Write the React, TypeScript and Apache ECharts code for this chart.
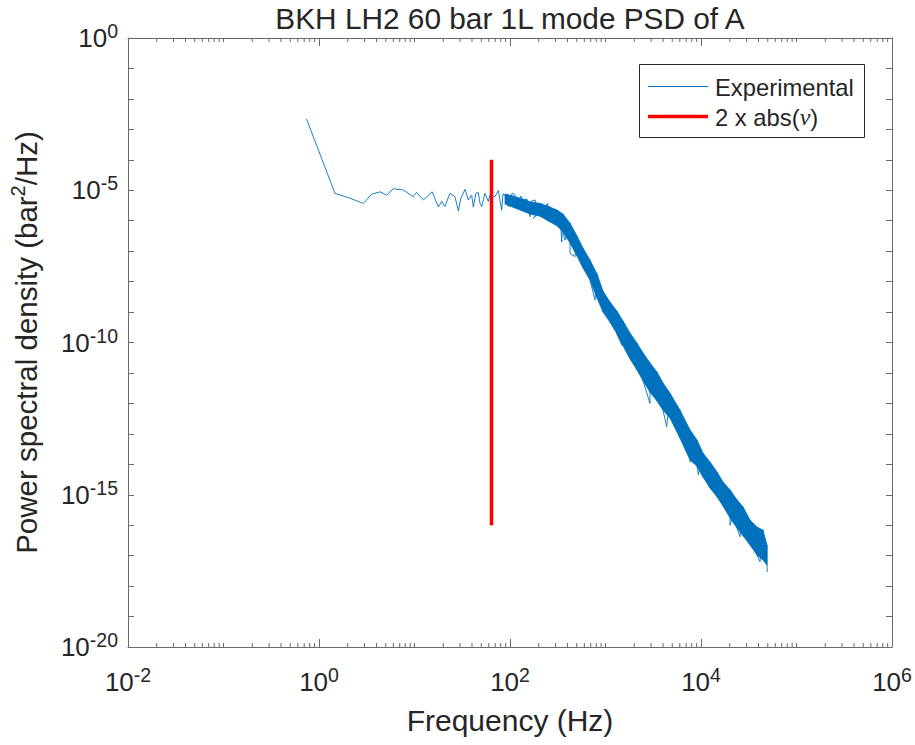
import React, { useEffect, useRef } from "react";
import * as echarts from "echarts";

// ---------- data ----------
const chartTitle = "BKH LH2 60 bar 1L mode PSD of A";
const xAxisName = "Frequency (Hz)";
const legendNames = ["Experimental", "2 x abs(ν)"];

// x axis: log10(Hz) from 1e-2 to 1e6, y axis: log10(bar^2/Hz) from 1e-20 to 1e0
const xExpMin = -2;
const xExpMax = 6;
const xExpStep = 2;
const yExpMin = -20;
const yExpMax = 0;
const yExpStep = 5;

// low-frequency part of the experimental PSD (Hz, bar^2/Hz)
const lowFreq = [
  0.74, 1.47, 2.1, 2.91, 3.56, 4.35, 5.1, 6.0, 7.6, 9.7, 10.5, 12.4, 15.3, 17.8, 19.3, 20.8,
  23.5, 26.5, 28.8, 30.5, 33.8, 36.6, 39.7, 41.3, 44, 46.6, 48.5, 50.5, 54.7, 59.3, 61.7,
  69.7, 75.5, 78.5, 81.8, 84.5, 88.7, 93, 100, 105, 113, 121, 130, 138, 151, 162, 170, 183,
  196, 211, 223, 238, 251,
];
const lowPsd = [
  2.2e-3, 7.9e-6, 5.5e-6, 3.7e-6, 7.4e-6, 8.9e-6, 6.9e-6, 1.12e-5, 1.02e-5, 6.2e-6, 8.5e-6,
  4.8e-6, 8.9e-6, 2.8e-6, 4.3e-6, 2.9e-6, 7.9e-6, 6.2e-6, 2.1e-6, 5.4e-6, 1.07e-5, 4.8e-6,
  6.9e-6, 2.8e-6, 8.1e-6, 8.3e-6, 3.8e-6, 2.9e-6, 7.9e-6, 4.3e-6, 6.9e-6, 6.2e-6, 9.8e-6,
  4.8e-6, 2.2e-6, 7.6e-6, 6.9e-6, 3.3e-6, 2.9e-6, 8.1e-6, 6.9e-6, 3.3e-6, 6.5e-6, 4.8e-6,
  5.1e-6, 1.35e-6, 4.5e-6, 4.8e-6, 1.9e-6, 3.8e-6, 2.2e-6, 3.0e-6, 3.7e-6,
];

// dense noisy band: frequency with upper / lower envelope (bar^2/Hz)
const bandFreq = [
  88.7, 100, 127, 162, 206, 262, 311, 359, 425, 503, 581, 688, 815, 942, 1114, 1319, 1523,
  1806, 2138, 2472, 2926, 3462, 4000, 4733, 6026, 7674, 9080, 10490, 12420, 14720, 17000,
  20130, 23820, 27540, 32600, 38550, 44570, 49100,
];
const bandUpper = [
  7.6e-6, 6.9e-6, 5.5e-6, 4.2e-6, 3.7e-6, 2.8e-6, 2.24e-6, 1.66e-6, 8.32e-7, 3.16e-7,
  1.26e-7, 5.13e-8, 1.78e-8, 4.9e-9, 2.14e-9, 1.07e-9, 5.13e-10, 2.04e-10, 9.5e-11,
  4.57e-11, 2.14e-11, 1.07e-11, 4.68e-12, 2.19e-12, 6.03e-13, 1.35e-13, 6.3e-14, 2.34e-14,
  1.2e-14, 5.6e-15, 2.63e-15, 1.45e-15, 6.8e-16, 4.0e-16, 1.48e-16, 8.7e-17, 6.9e-17,
  2.24e-17,
];
const bandLower = [
  3.55e-6, 3.02e-6, 2.24e-6, 1.66e-6, 1.41e-6, 9.1e-7, 6.8e-7, 4.27e-7, 1.86e-7, 6.9e-8,
  2.82e-8, 1.12e-8, 2.88e-9, 1.0e-9, 4.68e-10, 1.9e-10, 7.8e-11, 2.88e-11, 1.26e-11,
  5.5e-12, 2.34e-12, 1.2e-12, 6.0e-13, 3.3e-13, 7.2e-14, 1.38e-14, 8.7e-15, 3.8e-15,
  1.66e-15, 8.5e-16, 4.27e-16, 1.74e-16, 8.1e-17, 4.5e-17, 2.24e-17, 1.05e-17, 7.2e-18,
  4.9e-18,
];
// individual spikes sticking out of the band (Hz, bar^2/Hz)
const spikeFreq = [
  175, 242, 334, 348, 377, 425, 479, 776, 1479, 2924, 3300, 4375, 7674, 9380, 20130, 25600,
  41500, 49500,
];
const spikePsd = [
  1.2e-6, 3.3e-6, 1.8e-6, 2.0e-7, 2.3e-7, 8.5e-8, 6.6e-8, 2.5e-9, 8.3e-11, 1.0e-12,
  1.1e-11, 1.7e-13, 1.2e-14, 4.5e-15, 1.0e-16, 4.2e-17, 6.3e-18, 2.9e-18,
];

// vertical marker 2 x abs(nu)
const nuFreq = [64, 64];
const nuPsd = [1e-16, 1e-4];

// ---------- styling ----------
const FONT = "'Liberation Sans', Arial, Helvetica, sans-serif";
const TXT = "#262626";
const AXIS = "#6a6a6a";
const BLUE = "#0072BD";
const RED = "#FF0000";

const lg = (v: number) => Math.log10(v);

export default function App() {
  const ref = useRef<HTMLDivElement>(null);

  useEffect(() => {
    if (!ref.current) return;
    const chart = echarts.init(ref.current, undefined, { renderer: "svg" });

    const lowData = lowFreq.map((f, i) => [lg(f), lg(lowPsd[i])]);
    const lastLow = lowFreq[lowFreq.length - 1];
    // tail of the experimental trace: zig-zag through the read envelope points and spikes
    const events: { f: number; pts: number[] }[] = [];
    bandFreq.forEach((f, i) => {
      if (f > lastLow) events.push({ f, pts: [bandUpper[i], bandLower[i]] });
    });
    spikeFreq.forEach((f, i) => events.push({ f: f * 1.0001, pts: [spikePsd[i]] }));
    events.sort((a, b) => a.f - b.f);
    const tail: number[][] = [];
    events.forEach((ev) => ev.pts.forEach((p) => tail.push([lg(ev.f), lg(p)])));
    const expData = lowData.concat(tail);

    const bandData = bandFreq.map((f, i) => [lg(f), lg(bandUpper[i]), lg(bandLower[i])]);
    const nuData = nuFreq.map((f, i) => [lg(f), lg(nuPsd[i])]);

    // minor ticks on the log frequency axis (2..9 x 10^n and odd decades)
    const minorX: number[][] = [];
    for (let e = xExpMin; e < xExpMax; e++) {
      for (let k = 1; k <= 9; k++) {
        if (k === 1 && (e - xExpMin) % xExpStep === 0) continue;
        minorX.push([e + Math.log10(k), yExpMin]);
      }
    }

    const expLabel = (v: number) => `{b|10}{s|${Math.round(v)}}`;
    const labelRich = {
      b: { fontSize: 26, fontFamily: FONT, color: TXT, lineHeight: 34 },
      s: { fontSize: 19.5, fontFamily: FONT, color: TXT, lineHeight: 20, verticalAlign: "top" },
    };

    const baseX = {
      type: "value",
      min: xExpMin,
      max: xExpMax,
      interval: xExpStep,
      splitLine: { show: false },
      axisLine: { show: true, onZero: false, lineStyle: { color: AXIS, width: 1 } },
      axisTick: { show: true, inside: true, length: 8, lineStyle: { color: AXIS, width: 1 } },
    };
    const baseY = {
      type: "value",
      min: yExpMin,
      max: yExpMax,
      interval: yExpStep,
      splitLine: { show: false },
      axisLine: { show: true, onZero: false, lineStyle: { color: AXIS, width: 1 } },
      axisTick: { show: true, inside: true, length: 6, lineStyle: { color: AXIS, width: 1 } },
      minorTick: { show: true, splitNumber: 5, length: 6, lineStyle: { color: AXIS, width: 1 } },
      minorSplitLine: { show: false },
    };

    chart.setOption({
      animation: false,
      backgroundColor: "#ffffff",
      grid: { left: 128, right: 23, top: 38, bottom: 98, containLabel: false },
      xAxis: [
        {
          ...baseX,
          position: "bottom",
          name: xAxisName,
          nameLocation: "middle",
          nameGap: 58,
          nameTextStyle: { fontFamily: FONT, fontSize: 30, color: TXT },
          axisLabel: { show: true, margin: 18, formatter: expLabel, rich: labelRich },
        },
        { ...baseX, position: "top", axisLabel: { show: false } },
      ],
      yAxis: [
        {
          ...baseY,
          position: "left",
          name: "{a|Power spectral density (bar}{s|2}{a|/Hz)}",
          nameLocation: "middle",
          nameGap: 84,
          nameTextStyle: {
            rich: {
              a: { fontFamily: FONT, fontSize: 29.5, color: TXT, lineHeight: 36 },
              s: { fontFamily: FONT, fontSize: 20, color: TXT, lineHeight: 20, verticalAlign: "top" },
            },
          },
          axisLabel: { show: true, margin: 10, formatter: expLabel, rich: labelRich },
        },
        { ...baseY, position: "right", axisLabel: { show: false } },
      ],
      graphic: [
        {
          type: "text",
          x: 510,
          y: 18,
          style: {
            text: chartTitle,
            fontFamily: FONT,
            fontSize: 29.8,
            fill: TXT,
            align: "center",
            verticalAlign: "middle",
          },
        },
        {
          type: "group",
          x: 0,
          y: 0,
          z: 100,
          children: [
            {
              type: "rect",
              shape: { x: 639.5, y: 64.5, width: 225, height: 73 },
              style: { fill: "#ffffff", stroke: TXT, lineWidth: 1 },
            },
            {
              type: "line",
              shape: { x1: 648, y1: 86.5, x2: 708, y2: 86.5 },
              style: { stroke: BLUE, lineWidth: 1 },
            },
            {
              type: "text",
              x: 715,
              y: 87,
              style: {
                text: legendNames[0],
                fontFamily: FONT,
                fontSize: 23.8,
                fill: TXT,
                verticalAlign: "middle",
              },
            },
            {
              type: "line",
              shape: { x1: 648, y1: 116.5, x2: 708, y2: 116.5 },
              style: { stroke: RED, lineWidth: 3.5 },
            },
            {
              type: "text",
              x: 715,
              y: 117,
              style: {
                text: "{n|2 x abs(}{g|ν}{n|)}",
                verticalAlign: "middle",
                rich: {
                  n: { fontFamily: FONT, fontSize: 23.8, fill: TXT, color: TXT },
                  g: {
                    fontFamily: "'Liberation Serif', 'DejaVu Serif', serif",
                    fontStyle: "italic",
                    fontSize: 24,
                    fill: TXT,
                    color: TXT,
                  },
                },
              },
            },
          ],
        },
      ],
      series: [
        {
          type: "custom",
          name: "band",
          silent: true,
          xAxisIndex: 0,
          yAxisIndex: 0,
          data: bandData,
          encode: { x: 0, y: [1, 2] },
          z: 2,
          renderItem: (params: any, api: any) => {
            if (params.dataIndex !== 0) return { type: "group", children: [] };
            const top = bandData.map((d) => api.coord([d[0], d[1]]));
            const bot = bandData.map((d) => api.coord([d[0], d[2]])).reverse();
            return {
              type: "polygon",
              shape: { points: top.concat(bot) },
              style: { fill: BLUE, stroke: BLUE, lineWidth: 0.8 },
            };
          },
        },
        {
          type: "line",
          name: legendNames[0],
          data: expData,
          xAxisIndex: 0,
          yAxisIndex: 0,
          symbol: "none",
          showSymbol: false,
          z: 3,
          lineStyle: { color: BLUE, width: 0.9 },
          itemStyle: { color: BLUE },
        },
        {
          type: "line",
          name: legendNames[1],
          data: nuData,
          xAxisIndex: 0,
          yAxisIndex: 0,
          symbol: "none",
          showSymbol: false,
          z: 4,
          lineStyle: { color: RED, width: 3.5, cap: "butt" },
          itemStyle: { color: RED },
        },
        {
          type: "custom",
          name: "minorTicks",
          silent: true,
          xAxisIndex: 0,
          yAxisIndex: 0,
          data: minorX,
          encode: { x: 0, y: 1 },
          z: 5,
          renderItem: (params: any, api: any) => {
            const x = api.value(0);
            const b = api.coord([x, yExpMin]);
            const t = api.coord([x, yExpMax]);
            const st = { stroke: AXIS, lineWidth: 1 };
            return {
              type: "group",
              children: [
                { type: "line", shape: { x1: b[0], y1: b[1], x2: b[0], y2: b[1] - 4 }, style: st },
                { type: "line", shape: { x1: t[0], y1: t[1], x2: t[0], y2: t[1] + 4 }, style: st },
              ],
            };
          },
        },
      ],
    });

    return () => chart.dispose();
  }, []);

  return (
    <div
      ref={ref}
      style={{ position: "absolute", left: 0, top: 0, width: 915, height: 745, background: "#fff" }}
    />
  );
}
